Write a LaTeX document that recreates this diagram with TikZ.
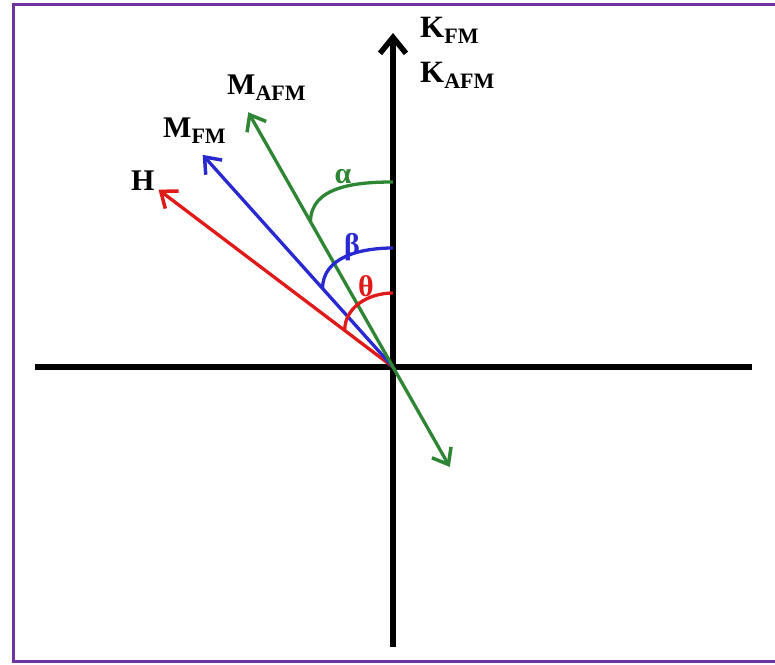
\documentclass[tikz,border=0pt]{standalone}
\usepackage{fontspec}
\setmainfont{Liberation Serif}
\usepackage{tikz}
\usetikzlibrary{calc,arrows.meta,positioning}
\definecolor{framepurple}{rgb}{0.44,0.20,0.63}
\definecolor{hred}{rgb}{0.88,0.10,0.10}
\definecolor{mblue}{rgb}{0.16,0.16,0.82}
\definecolor{mgreen}{rgb}{0.18,0.52,0.20}
\newcommand{\withsub}[2]{#1\raisebox{-6pt}{\fontsize{22}{24}\selectfont #2}}
\tikzset{
	axis_line/.style={
		line width=5.5pt, black, line cap=butt
	},
	vec_tip/.tip={Straight Barb[length=14pt,width=22pt,line width=3.5pt]},
	vec_arrow/.style={
		line width=3.3pt, -vec_tip
	},
	angle_arc/.style={line width=3.3pt},
	vec_label/.style={
		font=\bfseries\fontsize{30}{32}\selectfont,
		inner sep=0pt, anchor=base west
	},
	greek_label/.style={
		font=\bfseries\fontsize{30}{32}\selectfont,
		inner sep=0pt
	},
}

\begin{document}
\begin{tikzpicture}[x=1pt,y=1pt]
		\useasboundingbox (0,0) rectangle (775,664);
		\clip (0,0) rectangle (775,664);
		\draw[framepurple, line width=3pt] (13,3) rectangle (780,659);
		\coordinate (O) at (393,297);
		\coordinate (xleft) at (35,297);
		\coordinate (xright) at (752,297);
		\coordinate (ybottom) at (393,17);
		\coordinate (ytop) at (393,631);
		\coordinate (Htip) at ($(O)+(142.9:294)$);
		\coordinate (MFMtip) at ($(O)+(131.9:285)$);
		\coordinate (MAFMtip) at ($(O)+(119.6:293)$);
		\coordinate (MAFMtail) at ($(O)+(-60.4:115)$);
		\draw[axis_line] (xleft) -- (xright);
		\draw[axis_line, -{Straight Barb[length=16pt,width=26pt,line width=5.5pt]}] (ybottom) -- (ytop);
		\draw[vec_arrow, hred] (O) -- (Htip);
		\draw[vec_arrow, mblue] (O) -- (MFMtip);
		\draw[vec_arrow, mgreen, vec_tip-vec_tip] (MAFMtail) -- (MAFMtip);
		\coordinate (alpha_a) at ($(O)+(0,185)$);
		\coordinate (alpha_b) at ($(O)!0.57!(MAFMtip)$);
		\coordinate (beta_a) at ($(O)+(0,119)$);
		\coordinate (beta_b) at ($(O)!0.37!(MFMtip)$);
		\coordinate (theta_a) at ($(O)+(0,74)$);
		\coordinate (theta_b) at ($(O)!0.206!(Htip)$);
		\draw[angle_arc, mgreen] (alpha_a) to[out=180,in=90] (alpha_b);
		\draw[angle_arc, mblue] (beta_a) to[out=180,in=90] (beta_b);
		\draw[angle_arc, hred] (theta_a) to[out=180,in=90] (theta_b);
		\node[greek_label, text=mgreen] (alpha) at (343,487) {α};
		\node[greek_label, text=mblue] (beta) at (352,417) {β};
		\node[greek_label, text=hred] (theta) at (366,378) {θ};
		\node[vec_label] (H) at (131,473) {H};
		\node[vec_label] (MFM) at (163,526) {\withsub{M}{FM}};
		\node[vec_label] (MAFM) at (227,569) {\withsub{M}{AFM}};
		\node[vec_label, font=\bfseries\fontsize{31}{32}\selectfont] (KFM) at (420,626) {\withsub{K}{FM}};
		\node[vec_label, font=\bfseries\fontsize{31}{32}\selectfont] (KAFM) at (420,581) {\withsub{K}{AFM}};
	\end{tikzpicture}
\end{document}
